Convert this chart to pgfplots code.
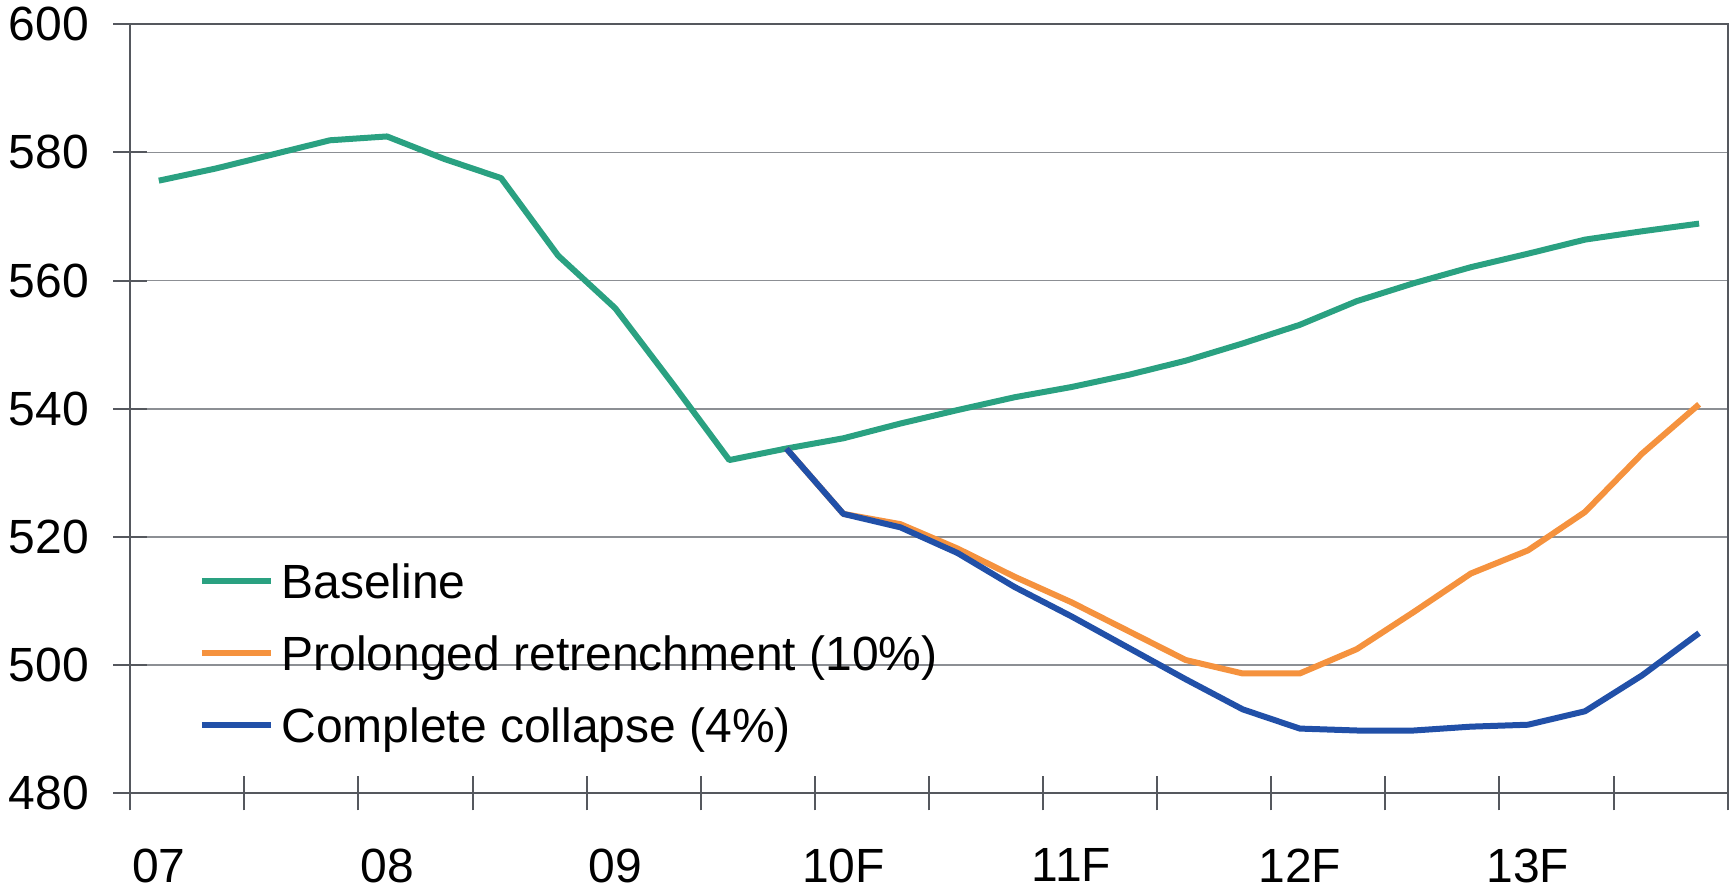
\documentclass[border=0pt]{standalone}
\usepackage{pgfplots}
\pgfplotsset{compat=1.18}
\usepackage{fontspec}
\setmainfont{Liberation Sans}
\definecolor{cgreen}{RGB}{42,161,129}
\definecolor{corange}{RGB}{245,146,62}
\definecolor{cblue}{RGB}{33,80,168}
\definecolor{caxis}{RGB}{85,88,94}
\definecolor{cgrid}{RGB}{140,143,148}
\newcommand{\bigfont}{\fontsize{24}{29}\selectfont}
\begin{document}
\begin{tikzpicture}
\begin{axis}[
  at={(0,0)}, anchor=south west,
  scale only axis, width=798.65pt, height=384.5pt,
  xmin=-0.5, xmax=27.5, ymin=480, ymax=600,
  ytick={480,500,520,540,560,580,600},
  xtick={-0.5,1.5,3.5,5.5,7.5,9.5,11.5,13.5,15.5,17.5,19.5,21.5,23.5,25.5,27.5},
  xticklabels={},
  extra x ticks={0,4,8,12,16,20,24},
  extra x tick labels={07,08,09,10F,11F,12F,13F},
  extra x tick style={major tick length=0pt, grid=none,
     xticklabel style={anchor=north, inner sep=0pt, yshift=-27.6pt}},
  ymajorgrids, grid style={cgrid, line width=0.75pt},
  axis line style={caxis, line width=1pt},
  tick style={caxis, line width=1pt},
  tick align=center, major tick length=17pt,
  xtick pos=bottom, ytick pos=left,
  yticklabel style={anchor=east, inner sep=0pt, xshift=-12pt},
  every tick label/.append style={font=\bigfont},
  /pgf/number format/assume math mode=true,
  legend cell align=left,
  legend style={at={(rel axis cs:0.0430,0.2990)}, anchor=north west,
     draw=none, fill=none, inner sep=0pt, outer sep=0pt,
     row sep=13.6pt, column sep=3.7pt, font=\bigfont,
     nodes={inner sep=0pt, text height=17.5pt, text depth=5pt}},
  legend image code/.code={\draw[#1] (0pt,2.5pt) -- (34.5pt,2.5pt);},
  every axis plot/.append style={line width=3pt, line join=round},
]
\addplot[cgreen] table {
x y
0 575.6
1 577.5
2 579.7
3 581.9
4 582.5
5 579.0
6 576.0
7 563.9
8 555.7
9 544.0
10 532.0
11 533.8
12 535.4
13 537.7
14 539.8
15 541.8
16 543.4
17 545.3
18 547.5
19 550.2
20 553.1
21 556.8
22 559.6
23 562.1
24 564.2
25 566.4
26 567.7
27 568.9
};
\addlegendentry{Baseline}
\addplot[corange] table {
x y
11 533.8
12 523.6
13 522.0
14 518.2
15 513.8
16 509.8
17 505.3
18 500.8
19 498.7
20 498.7
21 502.5
22 508.3
23 514.3
24 517.9
25 523.9
26 533.0
27 540.7
};
\addlegendentry{Prolonged retrenchment (10\%)}
\addplot[cblue] table {
x y
11 533.8
12 523.6
13 521.5
14 517.5
15 512.2
16 507.6
17 502.7
18 497.8
19 493.1
20 490.1
21 489.8
22 489.8
23 490.4
24 490.7
25 492.8
26 498.4
27 505.0
};
\addlegendentry{Complete collapse (4\%)}
\end{axis}
\pgfresetboundingbox
\path[use as bounding box] (-65.15pt,-48.35pt) rectangle (800.35pt,396.65pt);
\end{tikzpicture}
\end{document}
